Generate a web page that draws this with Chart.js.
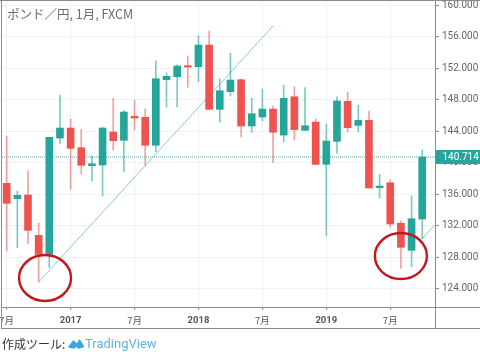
<!DOCTYPE html>
<html lang="ja"><head><meta charset="utf-8">
<script src="https://cdn.jsdelivr.net/npm/chart.js@4"></script>
<style>
html,body{margin:0;padding:0;background:#fff;overflow:hidden}
#wrap{position:relative;width:480px;height:352px}
canvas{position:absolute;left:0;top:0}
#title{position:absolute;left:7px;top:6px;font:12.5px/16px "Noto Sans CJK JP",Roboto,sans-serif;color:#6a6d75;white-space:nowrap}
#foot{position:absolute;left:2px;top:335px;font:12px/18px "Noto Sans CJK JP",sans-serif;color:#333;white-space:nowrap}
#logo{position:absolute;left:68px;top:337px}
#brand{position:absolute;left:85px;top:334px;font:13px/20px Roboto,sans-serif;color:#5fb3dc;white-space:nowrap}
</style></head><body>
<div id="wrap">
<canvas id="c" width="480" height="352"></canvas>
<div id="title">ポンド／円, 1月, FXCM</div>
<div id="foot">作成ツール:</div>
<svg id="logo" width="17" height="13" viewBox="0 0 17 13"><path d="M1 10 L5.5 4 L9 7.5 L11.5 3 L15.5 9.5 L10.5 11 L8.5 9 L6 11 Z" fill="#3ba6dc" stroke="#3ba6dc" stroke-width="1.4" stroke-linejoin="round"/></svg>
<div id="brand">TradingView</div>
</div>
<script>
const months=["2016-07","2016-08","2016-09","2016-10","2016-11","2016-12","2017-01","2017-02","2017-03","2017-04","2017-05","2017-06","2017-07","2017-08","2017-09","2017-10","2017-11","2017-12","2018-01","2018-02","2018-03","2018-04","2018-05","2018-06","2018-07","2018-08","2018-09","2018-10","2018-11","2018-12","2019-01","2019-02","2019-03","2019-04","2019-05","2019-06","2019-07","2019-08","2019-09","2019-10"];
const opens =[137.37,135.42,135.89,130.77,128.36,143.12,144.39,141.89,139.61,139.70,143.88,142.83,145.88,145.75,142.20,150.52,150.90,152.30,152.17,154.92,146.76,149.00,150.52,144.65,145.79,146.80,143.50,148.36,144.10,145.15,139.78,142.70,147.78,144.73,145.37,136.82,137.45,132.30,128.87,132.84];
const highs =[143.38,136.40,138.97,132.30,143.25,148.54,145.50,144.23,140.84,144.52,148.16,146.59,147.94,146.84,152.93,151.41,152.42,153.53,156.10,156.70,150.65,153.87,150.61,148.20,149.34,147.18,149.81,149.63,149.51,145.57,144.90,148.36,148.96,147.27,146.55,138.52,137.79,132.59,135.76,141.60];
const lows  =[128.78,129.20,129.71,124.85,126.66,142.36,136.61,138.55,137.67,135.76,141.60,138.85,144.14,139.61,141.38,147.06,147.06,149.56,150.27,146.76,145.11,148.45,143.25,143.85,145.32,139.99,142.65,142.87,144.10,139.70,130.77,141.18,143.88,143.88,136.78,135.51,131.79,126.59,126.79,130.34];
const closes=[134.84,135.85,131.41,128.36,143.21,144.39,141.81,139.66,139.86,144.39,142.78,146.42,145.66,142.20,150.65,150.95,152.26,152.13,154.92,146.76,149.12,150.48,144.65,146.21,146.80,143.85,148.16,144.18,144.68,139.78,142.74,147.82,144.43,145.37,136.78,137.03,132.21,129.25,132.88,140.71];
const lastPrice=140.714;
const yTicks=[160,156,152,148,144,140,136,132,128,124];
const xTickPos=[0,6,12,18,24,30,36];
const xTickLabels=["7月","2017","7月","2018","7月","2019","7月"];
const trendA=[{x:3,y:124.85},{x:25,y:157.34}];
const trendB=[{x:39,y:130.34},{x:40.15,y:132.05}];
const hLine=[{x:-0.44,y:lastPrice},{x:40.2,y:lastPrice}];
const circleX=[3.6,37.0], circleY=[125.36,128.15], circleRX=[2.44,2.44], circleRY=[2.92,2.92];

const UP="#26a69a",DOWN="#ef5350",UPW="rgba(38,166,154,.6)",DOWNW="rgba(239,83,80,.55)";
const isUp=i=>closes[i]>=opens[i];

const overlay={id:"overlay",
 afterDatasetsDraw(ch){
  const c=ch.ctx,x=ch.scales.x,y=ch.scales.y;
  c.save();
  c.strokeStyle="#c4161c";c.lineWidth=2.4;
  circleX.forEach((v,i)=>{
    const rx=Math.abs(x.getPixelForValue(v+circleRX[i])-x.getPixelForValue(v));
    const ry=Math.abs(y.getPixelForValue(circleY[i]+circleRY[i])-y.getPixelForValue(circleY[i]));
    c.beginPath();c.ellipse(x.getPixelForValue(v),y.getPixelForValue(circleY[i]),rx,ry,0,0,Math.PI*2);c.stroke();
  });
  c.restore();
 },
 afterDraw(ch){
  const c=ch.ctx,y=ch.scales.y,a=ch.chartArea;
  c.save();
  const py=y.getPixelForValue(lastPrice);
  c.fillStyle=UP;c.fillRect(a.right+1,py-7,480-a.right-1,14);
  c.fillStyle="#fff";c.font="10px Roboto";c.textAlign="left";c.textBaseline="middle";
  c.fillText(lastPrice.toFixed(3),442.5,py+.5);
  c.strokeStyle="#8a8c90";c.lineWidth=1;
  c.beginPath();
  c.moveTo(0,.5);c.lineTo(480,.5);
  c.moveTo(1.5,0);c.lineTo(1.5,328.5);
  c.moveTo(1,a.bottom+.5);c.lineTo(480,a.bottom+.5);
  c.moveTo(1,328.5);c.lineTo(480,328.5);
  c.moveTo(a.right+.5,0);c.lineTo(a.right+.5,328.5);
  c.stroke();
  c.restore();
 }};

new Chart(document.getElementById("c"),{
 type:"bar",
 plugins:[overlay],
 data:{datasets:[
  {type:"line",data:hLine,borderColor:"#4fb3a8",borderWidth:1,borderDash:[1,1],pointRadius:0,order:5},
  {type:"line",data:trendA,borderColor:"#8fcac3",borderWidth:1,pointRadius:0,order:4},
  {type:"line",data:trendB,borderColor:"#8fcac3",borderWidth:1,pointRadius:0,order:4},
  {type:"bar",data:months.map((m,i)=>({x:i,y:[lows[i],highs[i]]})),backgroundColor:months.map((m,i)=>isUp(i)?UPW:DOWNW),barThickness:1,grouped:false,order:2},
  {type:"bar",data:months.map((m,i)=>({x:i,y:[opens[i],closes[i]]})),backgroundColor:months.map((m,i)=>isUp(i)?UP:DOWN),barThickness:7,grouped:false,order:1}
 ]},
 options:{
  responsive:false,animation:false,
  layout:{padding:{left:2,top:1,right:0,bottom:0}},
  plugins:{legend:{display:false},tooltip:{enabled:false},title:{display:false}},
  scales:{
   x:{type:"linear",min:-0.44,max:40.2,offset:false,
    afterBuildTicks(s){s.ticks=xTickPos.map(v=>({value:v}))},
    afterFit(s){s.height=45;s.paddingLeft=0;s.paddingRight=0},
    border:{display:false},
    grid:{color:"#eef1f6",tickColor:"#8a8c90",tickLength:3,offset:false},
    ticks:{autoSkip:false,maxRotation:0,minRotation:0,padding:5,color:"#555",
     callback:v=>xTickLabels[xTickPos.indexOf(v)],
     font:ctx=>{const t=xTickLabels[xTickPos.indexOf(ctx.tick?ctx.tick.value:-1)]||"";
       return /^\d{4}$/.test(t)?{family:"Roboto",size:9.5,weight:"bold"}:{family:"'Noto Sans CJK JP'",size:9.5}}}},
   y:{type:"linear",position:"right",min:121.68,max:160.51,
    afterBuildTicks(s){s.ticks=yTicks.map(v=>({value:v}))},
    afterFit(s){s.width=45;s.paddingTop=0;s.paddingBottom=0},
    border:{display:false},
    grid:{color:"#eef1f6",tickColor:"#8a8c90",tickLength:4},
    ticks:{autoSkip:false,padding:3,color:"#666",align:"center",font:{family:"Roboto",size:10},
     callback:v=>v.toFixed(3)}}
  }
 }
});
</script>
</body></html>
